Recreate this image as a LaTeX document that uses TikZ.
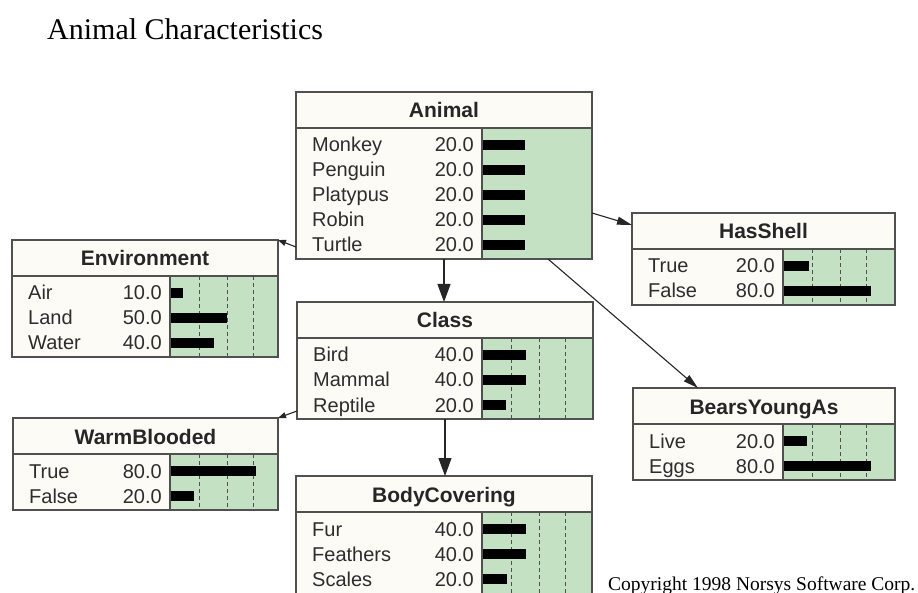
\documentclass[tikz,border=0pt]{standalone}
\usepackage{fontspec}
\setmainfont{Liberation Serif}
\newfontfamily\uifont{Liberation Sans}
\usetikzlibrary{arrows.meta,calc}

\definecolor{panelgreen}{RGB}{197,225,196}
\definecolor{paper}{RGB}{253,251,246}
\definecolor{framegray}{RGB}{80,80,80}
\definecolor{inkgray}{RGB}{45,45,45}

\tikzset{
  frameline/.style={draw=framegray, line width=1.3pt},
  gridline/.style={draw=framegray, line width=0.8pt, dash pattern=on 4pt off 3pt},
  beliefbar/.style={fill=black},
  statelabel/.style={font=\uifont\fontsize{20}{24}\selectfont, text=inkgray, inner sep=0pt, anchor=base west},
  stateval/.style={font=\uifont\fontsize{20}{24}\selectfont, text=inkgray, inner sep=0pt, anchor=base east},
  nodetitle/.style={font=\uifont\bfseries\fontsize{21}{25}\selectfont, text=black!85, inner sep=0pt, anchor=base},
  link/.style={draw=black!85, line width=1.1pt},
  bigtip/.style={-{Triangle[length=18pt,width=13pt]}},
  midtip/.style={-{Triangle[length=15pt,width=8pt]}},
  smalltip/.style={-{Triangle[length=8pt,width=6pt]}},
}

% extra depth added below the last row (used for a box running off the page)
\def\bnextra{0}

% #1 name, #2 left, #3 top, #4 right, #5 number of states, #6 title,
% #7 width of the bar panel, #8 1 = draw the dashed scale, #9 states label/value/bar
\newcommand{\beliefnode}[9]{%
  \pgfmathsetmacro\bnTB{#3+36}%
  \pgfmathsetmacro\bnBot{#3+42+25*#5+\bnextra}%
  \pgfmathsetmacro\bnPL{#4-#7}%
  \pgfmathsetmacro\bnW{#4-#2}%
  \pgfmathsetmacro\bnH{\bnBot-#3}%
  \pgfmathsetmacro\bnMid{(#2+#4)/2}%
  \node[inner sep=0pt, outer sep=0pt, minimum width=\bnW pt, minimum height=\bnH pt, anchor=north west] (#1) at (#2,#3) {};
  \fill[paper] (#2,#3) rectangle (#4,\bnBot);
  \fill[panelgreen] (\bnPL,\bnTB) rectangle (#4,\bnBot);
  \ifnum#8=1
    \foreach \g in {29,57,83} \draw[gridline] (\bnPL+\g,\bnTB) -- (\bnPL+\g,\bnBot);
  \fi
  \foreach \lab/\val/\len [count=\i from 0] in {#9} {
    \pgfmathsetmacro\ry{\bnTB+17+25*\i}
    \fill[beliefbar] (\bnPL+1,\ry-5) rectangle (\bnPL+1+\len,\ry+5);
    \node[statelabel] (#1-lab-\i) at (#2+16,\ry+7) {\lab};
    \node[stateval] (#1-val-\i) at (\bnPL-8,\ry+7) {\val};
  }
  \draw[frameline] (\bnPL,\bnTB) -- (\bnPL,\bnBot);
  \draw[frameline] (#2,\bnTB) -- (#4,\bnTB);
  \draw[frameline] (#2,#3) rectangle (#4,\bnBot);
  \node[nodetitle] (#1-title) at (\bnMid,\bnTB-10) {#6};
}

\begin{document}
\begin{tikzpicture}[x=1pt,y=-1pt]
  \useasboundingbox (0,0) rectangle (918,593);
  \fill[white] (0,0) rectangle (918,593);

  \node[anchor=base west, inner sep=0pt, font=\fontsize{30}{36}\selectfont] (heading) at (47,40) {Animal Characteristics};

  \beliefnode{animal}{296}{92}{592}{5}{Animal}{110}{0}%
    {Monkey/20.0/42, Penguin/20.0/42, Platypus/20.0/42, Robin/20.0/42, Turtle/20.0/42}
  \beliefnode{environment}{12}{240}{278}{3}{Environment}{108}{1}%
    {Air/10.0/12, Land/50.0/56, Water/40.0/43}
  \beliefnode{hasshell}{632}{213}{895}{2}{HasShell}{112}{1}%
    {True/20.0/25, False/80.0/87}
  \beliefnode{class}{297}{302}{593}{3}{Class}{111}{1}%
    {Bird/40.0/43, Mammal/40.0/43, Reptile/20.0/23}
  \beliefnode{warm}{13}{418}{278}{2}{WarmBlooded}{108}{1}%
    {True/80.0/85, False/20.0/23}
  \beliefnode{bears}{633}{388}{895}{2}{BearsYoungAs}{112}{1}%
    {Live/20.0/23, Eggs/80.0/87}
  \def\bnextra{10}
  \beliefnode{body}{296}{476}{592}{3}{BodyCovering}{110}{1}%
    {Fur/40.0/43, Feathers/40.0/43, Scales/20.0/24}

  % links between the nodes
  \draw[link, smalltip] ($(animal.south west)+(0,-12)$) -- (environment.north east);
  \draw[link, midtip] ($(animal.north east)+(0,121)$) -- ($(hasshell.north west)+(0,12)$);
  \draw[link, bigtip] (animal.south) -- (animal.south |- class.north);
  \draw[link, midtip] ($(animal.south)+(104,0)$) -- ($(bears.north west)+(65,0)$);
  \draw[link, smalltip] ($(class.south west)+(0,-8)$) -- (warm.north east);
  \draw[link, bigtip] (class.south) -- (class.south |- body.north);

  \node[anchor=base west, inner sep=0pt, font=\fontsize{19.5}{23}\selectfont] (copyright) at (608,590) {Copyright 1998 Norsys Software Corp.};
\end{tikzpicture}
\end{document}
